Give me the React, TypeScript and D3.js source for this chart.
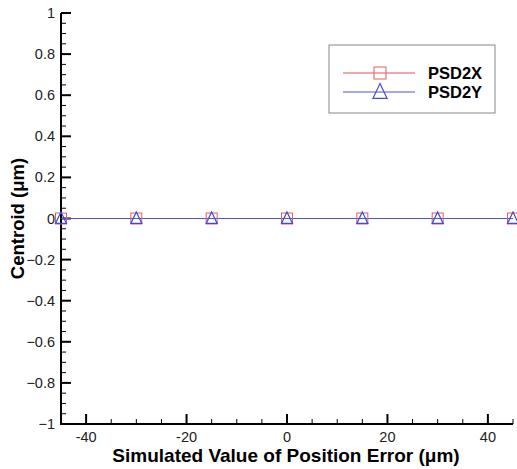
import React, { useEffect, useRef } from "react";
import * as d3 from "d3";

const errorValues = [-45, -30, -15, 0, 15, 30, 45];
const psd2x = [0, 0, 0, 0, 0, 0, 0];
const psd2y = [0, 0, 0, 0, 0, 0, 0];
const xTicks = [-40, -20, 0, 20, 40];
const yTicks = [-1, -0.8, -0.6, -0.4, -0.2, 0, 0.2, 0.4, 0.6, 0.8, 1];
const seriesNames = ["PSD2X", "PSD2Y"];

export default function App() {
  const ref = useRef<SVGSVGElement>(null);

  useEffect(() => {
    const svg = d3.select(ref.current);
    svg.selectAll("*").remove();

    const font = "'Liberation Sans', Arial, sans-serif";
    const x = d3.scaleLinear().domain([-45, 45]).range([61, 513]);
    const y = d3.scaleLinear().domain([-1, 1]).range([424, 13]);

    // axes
    const g = svg.append("g");
    g.append("line")
      .attr("x1", 61).attr("x2", 61)
      .attr("y1", y(1)).attr("y2", y(-1))
      .attr("stroke", "#000").attr("stroke-width", 2);
    g.append("line")
      .attr("x1", 60).attr("x2", x(45))
      .attr("y1", y(-1)).attr("y2", y(-1))
      .attr("stroke", "#000").attr("stroke-width", 2);

    // y ticks
    d3.range(-1, 1.0001, 0.05).forEach((v) => {
      const major = yTicks.some((t) => Math.abs(t - v) < 1e-6);
      g.append("line")
        .attr("x1", 61).attr("x2", 61 + (major ? 10 : 5))
        .attr("y1", y(v)).attr("y2", y(v))
        .attr("stroke", "#000").attr("stroke-width", major ? 2 : 1);
    });
    yTicks.forEach((t) => {
      g.append("text")
        .attr("x", 55).attr("y", y(t) + 5)
        .attr("text-anchor", "end")
        .attr("font-family", font).attr("font-size", 14.5)
        .attr("fill", "#222")
        .text(d3.format("~g")(t));
    });

    // x ticks
    d3.range(-45, 45.001, 5).forEach((v) => {
      const major = xTicks.includes(Math.round(v));
      if (v === -45) return;
      g.append("line")
        .attr("x1", x(v)).attr("x2", x(v))
        .attr("y1", y(-1)).attr("y2", y(-1) - (major ? 10 : 5))
        .attr("stroke", "#000").attr("stroke-width", major ? 2 : 1);
    });
    xTicks.forEach((t) => {
      g.append("text")
        .attr("x", x(t)).attr("y", y(-1) + 18)
        .attr("text-anchor", "middle")
        .attr("font-family", font).attr("font-size", 14.5)
        .attr("fill", "#222")
        .text(t);
    });

    // titles
    svg.append("text")
      .attr("x", 286).attr("y", 462)
      .attr("text-anchor", "middle")
      .attr("font-family", font).attr("font-size", 19).attr("font-weight", "bold")
      .text("Simulated Value of Position Error (μm)");
    svg.append("text")
      .attr("transform", `translate(24,${y(0)}) rotate(-90)`)
      .attr("text-anchor", "middle")
      .attr("font-family", font).attr("font-size", 18.5).attr("font-weight", "bold")
      .text("Centroid (μm)");

    // series
    const line = d3.line<number>().x((d, i) => x(errorValues[i])).y((d) => y(d));
    svg.append("path").attr("d", line(psd2x)).attr("fill", "none").attr("stroke", "#e05050").attr("stroke-width", 1);
    svg.append("path").attr("d", line(psd2y)).attr("fill", "none").attr("stroke", "#5050d8").attr("stroke-width", 1);

    const square = (sel: any, cx: number, cy: number, sq: number) =>
      sel.append("rect")
        .attr("x", cx - sq / 2).attr("y", cy - sq / 2)
        .attr("width", sq).attr("height", sq)
        .attr("fill", "none").attr("stroke", "#e06060").attr("stroke-width", 1);
    const tri = (sel: any, cx: number, cy: number, w: number) =>
      sel.append("path")
        .attr("d", `M${cx},${cy - w * 0.6}L${cx + w / 2},${cy + w * 0.45}L${cx - w / 2},${cy + w * 0.45}Z`)
        .attr("fill", "none").attr("stroke", "#4848d0").attr("stroke-width", 1.2);

    psd2x.forEach((v, i) => square(svg, x(errorValues[i]), y(v), 11));
    psd2y.forEach((v, i) => tri(svg, x(errorValues[i]), y(v), 11));

    // legend
    const lg = svg.append("g");
    lg.append("rect")
      .attr("x", 329).attr("y", 45).attr("width", 166).attr("height", 68)
      .attr("fill", "#fff").attr("stroke", "#888").attr("stroke-width", 1);
    const colors = ["#e05050", "#5050d8"];
    seriesNames.forEach((name, i) => {
      const ly = 73 + i * 19;
      lg.append("line")
        .attr("x1", 343).attr("x2", 415).attr("y1", ly).attr("y2", ly)
        .attr("stroke", colors[i]).attr("stroke-width", 1);
      if (i === 0) square(lg, 380, ly, 12);
      else tri(lg, 380, ly, 14);
      lg.append("text")
        .attr("x", 428).attr("y", ly + 6)
        .attr("font-family", font).attr("font-size", 16.5).attr("font-weight", "bold")
        .text(name);
    });
  }, []);

  return (
    <svg
      ref={ref}
      width={517}
      height={469}
      style={{ position: "absolute", left: 0, top: 0, background: "#fff" }}
    />
  );
}
